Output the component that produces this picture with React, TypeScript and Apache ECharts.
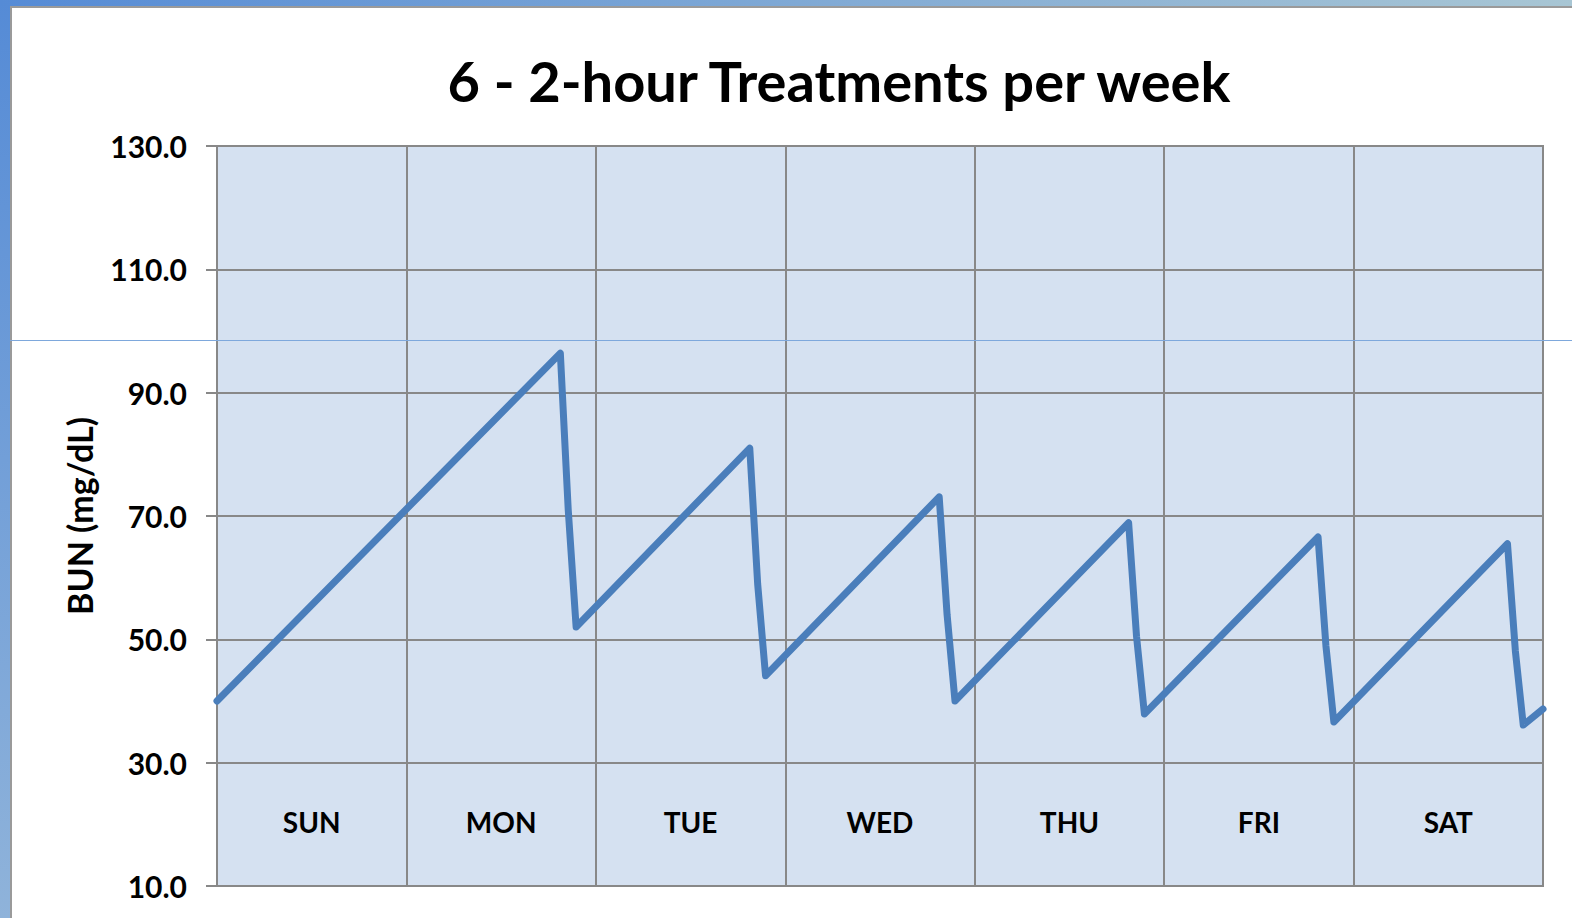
import React, { useEffect, useRef } from "react";
import * as echarts from "echarts";

const TITLE = "6 - 2-hour Treatments per week";
const Y_NAME = "BUN (mg/dL)";
const DAYS = ["SUN", "MON", "TUE", "WED", "THU", "FRI", "SAT"];
const Y_TICKS = [10, 30, 50, 70, 90, 110, 130];
// time in hours since start of week
const HOURS = [0, 43.5, 44.5, 45.5, 67.5, 68.5, 69.5, 91.5, 92.5, 93.5, 115.5, 116.5, 117.5, 139.5, 140.5, 141.5, 163.5, 164.5, 165.5, 168];
// BUN values (mg/dL)
const BUN = [40.0, 96.4, 71.0, 52.0, 81.0, 59.0, 44.1, 73.1, 54.0, 40.0, 68.9, 50.5, 37.9, 66.6, 48.9, 36.6, 65.5, 48.1, 36.1, 38.7];

const FONT = "Lato";

export default function App() {
  const ref = useRef<HTMLDivElement>(null);
  useEffect(() => {
    if (!ref.current) return;
    const chart = echarts.init(ref.current, null, { renderer: "svg" });
    const data = HOURS.map((h, i) => [h, BUN[i]]);
    chart.setOption({
      animation: false,
      backgroundColor: "#ffffff",
      title: {
        text: TITLE,
        left: 834,
        top: 47,
        textAlign: "center",
        textStyle: { fontFamily: FONT, fontWeight: "bold", fontSize: 56, color: "#000" },
      },
      grid: {
        left: 217,
        right: 29,
        top: 146,
        bottom: 32,
        show: true,
        backgroundColor: "#d5e1f1",
        borderColor: "#888888",
        borderWidth: 2,
      },
      xAxis: [
        {
          type: "value",
          min: 0,
          max: 168,
          interval: 24,
          axisLine: { show: true, lineStyle: { color: "#888888", width: 2 } },
          axisTick: { show: false },
          axisLabel: { show: false },
          splitLine: { show: true, lineStyle: { color: "#888888", width: 2 } },
        },
        {
          type: "category",
          data: DAYS,
          position: "bottom",
          boundaryGap: true,
          axisLine: { show: false },
          axisTick: { show: false },
          splitLine: { show: false },
          axisLabel: {
            inside: true,
            margin: 50,
            fontFamily: FONT,
            fontWeight: "bold",
            fontSize: 28,
            color: "#000",
          },
        },
      ],
      yAxis: {
        type: "value",
        min: 10,
        max: 130,
        name: Y_NAME,
        nameLocation: "middle",
        nameGap: 121,
        nameTextStyle: { fontFamily: FONT, fontWeight: "bold", fontSize: 34, color: "#000" },
        axisLine: { show: true, lineStyle: { color: "#888888", width: 2 } },
        axisTick: { show: true, length: 11, customValues: Y_TICKS, lineStyle: { color: "#888888", width: 2 } },
        axisLabel: {
          customValues: Y_TICKS,
          margin: 30,
          formatter: (v: number) => v.toFixed(1),
          fontFamily: FONT,
          fontWeight: "bold",
          fontSize: 30,
          color: "#000",
        },
        splitLine: { show: true, lineStyle: { color: "#888888", width: 2 } },
      },
      series: [
        {
          type: "line",
          xAxisIndex: 0,
          data,
          symbol: "none",
          lineStyle: { color: "#4a7ebb", width: 7, cap: "round", join: "round" },
          z: 5,
        },
      ],
      graphic: [
        {
          type: "rect",
          shape: { x: 0, y: 0, width: 10, height: 918 },
          style: {
            fill: new echarts.graphic.LinearGradient(0, 0, 0, 1, [
              { offset: 0, color: "#558bd6" },
              { offset: 1, color: "#8fb3da" },
            ]),
          },
          z: 100,
        },
        {
          type: "rect",
          shape: { x: 0, y: 0, width: 1572, height: 6 },
          style: {
            fill: new echarts.graphic.LinearGradient(0, 0, 1, 0, [
              { offset: 0, color: "#558bd6" },
              { offset: 1, color: "#a8c6d4" },
            ]),
          },
          z: 100,
        },
        {
          type: "line",
          shape: { x1: 11, y1: 6, x2: 11, y2: 918 },
          style: { stroke: "#9a9a9a", lineWidth: 2 },
          z: 100,
        },
        {
          type: "line",
          shape: { x1: 10, y1: 7, x2: 1572, y2: 7 },
          style: { stroke: "#9a9a9a", lineWidth: 2 },
          z: 100,
        },
        {
          type: "line",
          shape: { x1: 10, y1: 340.5, x2: 1572, y2: 340.5 },
          style: { stroke: "#7ea8dc", lineWidth: 1 },
          z: 100,
        },
      ],
    });
    return () => chart.dispose();
  }, []);
  return (
    <div
      ref={ref}
      style={{ position: "absolute", left: 0, top: 0, width: 1572, height: 918 }}
    />
  );
}
